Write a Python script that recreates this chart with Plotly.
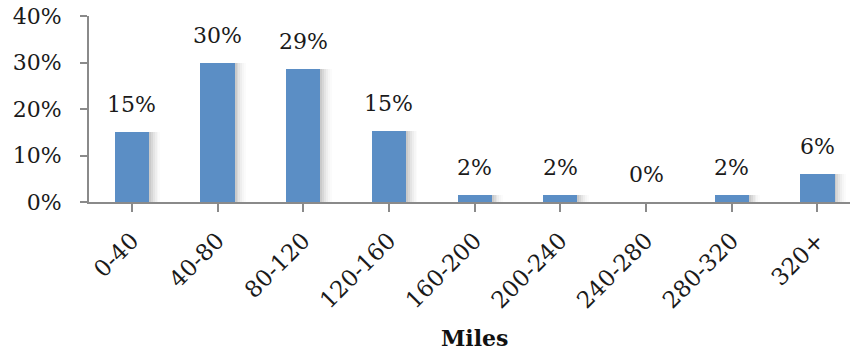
import plotly.graph_objects as go

categories = ["0-40", "40-80", "80-120", "120-160", "160-200", "200-240", "240-280", "280-320", "320+"]
values = [15.1, 30.0, 28.6, 15.2, 1.6, 1.6, 0.0, 1.6, 6.1]
y_ticks = [0, 10, 20, 30, 40]
y_tick_labels = ["0%", "10%", "20%", "30%", "40%"]
x_title = "Miles"

FONT = "DejaVu Serif"
BAR = "#5B8EC5"
AXIS = "#8A8A8A"

xs = list(range(len(categories)))
fig = go.Figure()

# soft shadow on the right side of each bar
for k, a in enumerate([0.06, 0.05, 0.04, 0.03, 0.02, 0.015]):
    fig.add_trace(go.Bar(
        x=xs, y=values, width=0.4, offset=-0.2 + 0.022 * (k + 1),
        marker=dict(color=f"rgba(0,0,0,{a})", line=dict(width=0)),
        hoverinfo="skip", showlegend=False,
    ))

fig.add_trace(go.Bar(
    x=xs, y=values, width=0.4, offset=-0.2,
    marker=dict(color=BAR, line=dict(width=0)),
    showlegend=False,
))

for xi, v in zip(xs, values):
    fig.add_annotation(
        x=xi, y=v, xref="x", yref="y", text=f"{round(v):.0f}%",
        showarrow=False, yanchor="bottom", yshift=13,
        font=dict(family=FONT, size=22, color="#1a1a1a"),
    )

fig.add_annotation(
    x=4, y=0, xref="x", yref="paper", text=f"<b>{x_title}</b>",
    showarrow=False, yanchor="middle", yshift=-136,
    font=dict(family=FONT, size=22, color="#111"),
)

fig.update_layout(
    width=850, height=350,
    margin=dict(l=89, r=0, t=16, b=148),
    paper_bgcolor="white", plot_bgcolor="white",
    barmode="overlay", bargap=0,
    font=dict(family=FONT, size=22, color="#1a1a1a"),
)
fig.update_xaxes(
    range=[-0.5, 8.38], tickmode="array", tickvals=xs, ticktext=categories,
    tickangle=-45, ticks="outside", tickson="boundaries", ticklen=8,
    tickwidth=2, tickcolor=AXIS, showline=True, linecolor=AXIS, linewidth=2,
    showgrid=False, zeroline=False, ticklabelstandoff=6,
    tickfont=dict(family=FONT, size=23, color="#1a1a1a"),
)
fig.update_yaxes(
    range=[0, 40], tickmode="array", tickvals=y_ticks, ticktext=y_tick_labels,
    ticks="outside", ticklen=7, tickwidth=2, tickcolor=AXIS,
    showline=True, linecolor=AXIS, linewidth=2, showgrid=False, zeroline=False,
    ticklabelstandoff=14,
    tickfont=dict(family=FONT, size=22, color="#1a1a1a"),
)

fig.write_html("out.html")
